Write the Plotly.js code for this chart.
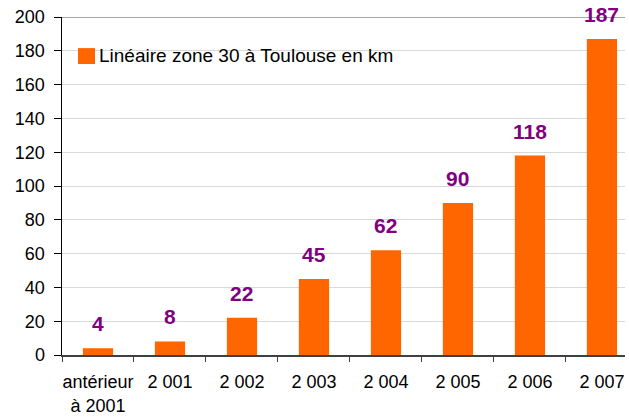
<!DOCTYPE html>
<html><head><meta charset="utf-8">
<script src="https://cdn.plot.ly/plotly-3.0.1.min.js"></script>
<style>html,body{margin:0;padding:0;background:#fff}#c{width:629px;height:420px}</style>
</head><body><div id="c"></div>
<script>
const categories = ["antérieur<br>à 2001", "2 001", "2 002", "2 003", "2 004", "2 005", "2 006", "2 007"];
const values = [4, 8, 22, 45, 62, 90, 118, 187];
const seriesName = "Linéaire zone 30 à Toulouse en km";
const barColor = "#FF6600";

const trace = {
  type: "bar", x: categories, y: values, name: seriesName,
  marker: {color: barColor}, width: 0.42, showlegend: false
};
const annotations = categories.map((c, i) => ({
  x: c, y: values[i], text: "<b>" + values[i] + "</b>", showarrow: false,
  yanchor: "bottom", yshift: 11, xref: "x", yref: "y",
  font: {family: "Liberation Sans, Arial, sans-serif", size: 21, color: "#800080"}
}));
annotations.push({
  xref: "paper", yref: "paper", x: 0.063, y: 0.885, xanchor: "left", yanchor: "middle",
  text: seriesName, showarrow: false,
  font: {family: "Liberation Sans, Arial, sans-serif", size: 19, color: "#000"}
});
const layout = {
  width: 629, height: 420,
  margin: {l: 62, r: 4, t: 17, b: 65},
  paper_bgcolor: "#fff", plot_bgcolor: "#fff",
  font: {family: "Liberation Sans, Arial, sans-serif", size: 18, color: "#000"},
  xaxis: {
    type: "category", range: [-0.5, 7.32], showgrid: false, tickangle: 0,
    showline: true, linecolor: "#404040", linewidth: 1.5,
    ticks: "outside", ticklen: 5, tickcolor: "#404040", tickson: "boundaries",
    ticklabelstandoff: 10, tickfont: {size: 18}, fixedrange: true
  },
  yaxis: {
    range: [0, 200], dtick: 20, showgrid: true, gridcolor: "#d9d9d9", gridwidth: 1,
    showline: true, linecolor: "#000", linewidth: 1.5,
    ticks: "outside", ticklen: 7, tickcolor: "#000", ticklabelstandoff: 5,
    tickfont: {size: 18}, zeroline: false
  },
  shapes: [
    {type: "line", xref: "paper", yref: "y", x0: 0, x1: 1, y0: 200, y1: 200,
     line: {color: "#888", width: 1.5}},
    {type: "rect", xref: "paper", yref: "paper", x0: 0.0284, x1: 0.0586, y0: 0.861, y1: 0.908,
     fillcolor: barColor, line: {width: 0}}
  ],
  showlegend: false,
  annotations: annotations
};
Plotly.newPlot("c", [trace], layout, {displayModeBar: false, staticPlot: true});
</script></body></html>
